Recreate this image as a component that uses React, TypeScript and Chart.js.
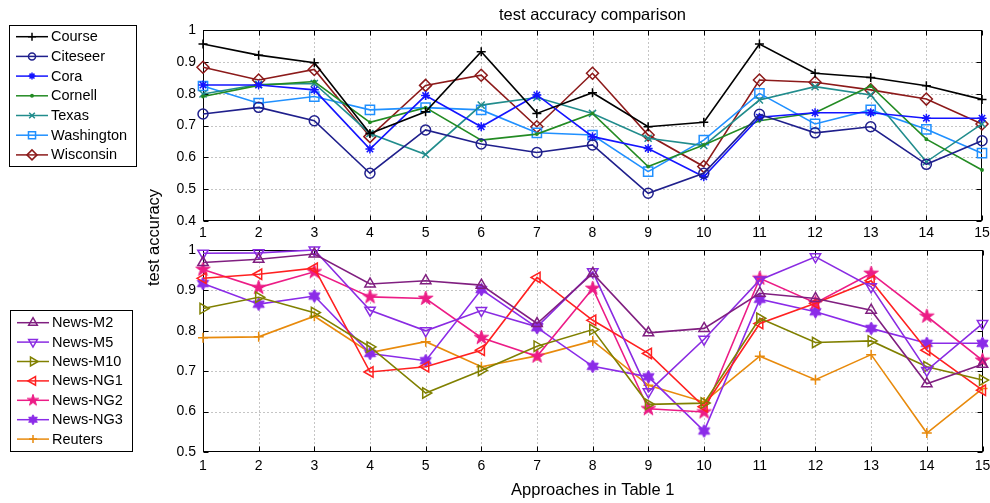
import React, { useEffect, useRef } from 'react';
import { Chart, registerables } from 'chart.js';
import { drawPoint } from 'chart.js/helpers';

Chart.register(...registerables);

const approaches = ['1', '2', '3', '4', '5', '6', '7', '8', '9', '10', '11', '12', '13', '14', '15'];

// upper panel
const course = [0.956, 0.921, 0.897, 0.675, 0.743, 0.932, 0.738, 0.803, 0.696, 0.710, 0.956, 0.864, 0.851, 0.825, 0.782];
const citeseer = [0.736, 0.757, 0.715, 0.550, 0.686, 0.642, 0.615, 0.639, 0.487, 0.550, 0.735, 0.677, 0.696, 0.578, 0.652];
const cora = [0.827, 0.827, 0.812, 0.626, 0.794, 0.696, 0.796, 0.665, 0.628, 0.539, 0.726, 0.740, 0.740, 0.723, 0.723];
const cornell = [0.791, 0.826, 0.838, 0.710, 0.756, 0.654, 0.673, 0.738, 0.571, 0.639, 0.715, 0.740, 0.824, 0.657, 0.560];
const texas = [0.799, 0.829, 0.832, 0.675, 0.609, 0.764, 0.788, 0.738, 0.660, 0.637, 0.780, 0.822, 0.796, 0.586, 0.705];
const washington = [0.824, 0.770, 0.791, 0.749, 0.756, 0.749, 0.677, 0.670, 0.555, 0.654, 0.801, 0.705, 0.749, 0.688, 0.613];
const wisconsin = [0.883, 0.843, 0.876, 0.665, 0.826, 0.858, 0.696, 0.864, 0.670, 0.571, 0.843, 0.836, 0.812, 0.783, 0.705];

// lower panel
const newsM2 = [0.969, 0.977, 0.990, 0.916, 0.924, 0.913, 0.818, 0.942, 0.795, 0.806, 0.893, 0.880, 0.851, 0.669, 0.717];
const newsM5 = [0.992, 0.993, 1.0, 0.851, 0.800, 0.850, 0.810, 0.946, 0.649, 0.779, 0.926, 0.983, 0.909, 0.702, 0.818];
const newsM10 = [0.855, 0.883, 0.845, 0.760, 0.646, 0.702, 0.762, 0.803, 0.618, 0.621, 0.831, 0.771, 0.775, 0.711, 0.678];
const newsNG1 = [0.930, 0.940, 0.955, 0.698, 0.711, 0.752, 0.932, 0.826, 0.744, 0.612, 0.818, 0.868, 0.924, 0.752, 0.653];
const newsNG2 = [0.952, 0.907, 0.946, 0.884, 0.880, 0.783, 0.737, 0.905, 0.607, 0.599, 0.930, 0.869, 0.942, 0.836, 0.727];
const newsNG3 = [0.917, 0.866, 0.886, 0.744, 0.726, 0.902, 0.808, 0.712, 0.686, 0.552, 0.878, 0.847, 0.806, 0.769, 0.769];
const reuters = [0.783, 0.785, 0.836, 0.746, 0.773, 0.711, 0.738, 0.775, 0.665, 0.624, 0.737, 0.679, 0.741, 0.547, 0.657];

const topTicks = [0.4, 0.5, 0.6, 0.7, 0.8, 0.9, 1];
const bottomTicks = [0.5, 0.6, 0.7, 0.8, 0.9, 1];

const FONT = '"Liberation Sans", Arial, Helvetica, sans-serif';

function makeStar(color: string, outer: number, inner: number, points: number) {
  const size = Math.ceil(outer * 2 + 2);
  const c = document.createElement('canvas');
  c.width = size;
  c.height = size;
  const g = c.getContext('2d')!;
  g.translate(size / 2, size / 2);
  g.beginPath();
  for (let i = 0; i < points * 2; i++) {
    const r = i % 2 === 0 ? outer : inner;
    const a = -Math.PI / 2 + (i * Math.PI) / points;
    g.lineTo(r * Math.cos(a), r * Math.sin(a));
  }
  g.closePath();
  g.fillStyle = color;
  g.fill();
  g.strokeStyle = color;
  g.lineWidth = 1;
  g.stroke();
  return c;
}

type Spec = {
  label: string;
  data: number[];
  color: string;
  style: any;
  radius: number;
  rotation?: number;
  filled?: boolean;
  legendRadius: number;
  legendStyle?: any;
};

function frameAndGrid(chart: any) {
  const { ctx, chartArea: a, scales } = chart;
  const xs = scales.x;
  const ys = scales.y;
  const L = Math.round(a.left) + 0.5;
  const R = Math.round(a.right) - 0.5;
  const T = Math.round(a.top) + 0.5;
  const B = Math.round(a.bottom) - 0.5;
  ctx.save();
  ctx.lineWidth = 1;
  ctx.strokeStyle = '#8a8a8a';
  ctx.setLineDash([1, 3]);
  const n = xs.ticks.length;
  for (let i = 1; i < n - 1; i++) {
    const px = Math.round(xs.getPixelForTick(i)) + 0.5;
    ctx.beginPath();
    ctx.moveTo(px, T);
    ctx.lineTo(px, B);
    ctx.stroke();
  }
  ys.ticks.forEach((t: any) => {
    if (t.value <= ys.min + 1e-9 || t.value >= ys.max - 1e-9) return;
    const py = Math.round(ys.getPixelForValue(t.value)) + 0.5;
    ctx.beginPath();
    ctx.moveTo(L, py);
    ctx.lineTo(R, py);
    ctx.stroke();
  });
  ctx.setLineDash([]);
  ctx.strokeStyle = '#000';
  ctx.lineWidth = 1;
  ctx.strokeRect(L, T, R - L, B - T);
  const tl = 5;
  for (let i = 0; i < n; i++) {
    const px = Math.round(xs.getPixelForTick(i)) + 0.5;
    ctx.beginPath();
    ctx.moveTo(px, B);
    ctx.lineTo(px, B - tl);
    ctx.moveTo(px, T);
    ctx.lineTo(px, T + tl);
    ctx.stroke();
  }
  ys.ticks.forEach((t: any) => {
    const py = Math.round(ys.getPixelForValue(t.value)) + 0.5;
    ctx.beginPath();
    ctx.moveTo(L, py);
    ctx.lineTo(L + tl, py);
    ctx.moveTo(R, py);
    ctx.lineTo(R - tl, py);
    ctx.stroke();
  });
  ctx.restore();
}

function drawLegend(chart: any, specs: Spec[], box: any) {
  const { ctx } = chart;
  ctx.save();
  ctx.fillStyle = '#fff';
  ctx.fillRect(box.x, box.y, box.w, box.h);
  ctx.strokeStyle = '#000';
  ctx.lineWidth = 1;
  ctx.strokeRect(box.x + 0.5, box.y + 0.5, box.w, box.h);
  ctx.font = `14.5px ${FONT}`;
  ctx.textBaseline = 'middle';
  ctx.textAlign = 'left';
  specs.forEach((s, i) => {
    const y = box.row0 + i * box.dy;
    ctx.strokeStyle = s.color;
    ctx.lineWidth = 1.5;
    ctx.beginPath();
    ctx.moveTo(box.lx0, y);
    ctx.lineTo(box.lx1, y);
    ctx.stroke();
    ctx.fillStyle = s.filled ? s.color : 'rgba(0,0,0,0)';
    ctx.strokeStyle = s.color;
    ctx.lineWidth = 1.5;
    drawPoint(ctx, {
      pointStyle: s.legendStyle || s.style,
      rotation: s.rotation || 0,
      radius: s.legendRadius,
      borderWidth: 1.5,
    } as any, (box.lx0 + box.lx1) / 2, y);
    ctx.fillStyle = '#000';
    ctx.fillText(s.label, box.tx, y + 0.5);
  });
  ctx.restore();
}

function buildDatasets(specs: Spec[]) {
  return specs.map((s) => ({
    label: s.label,
    data: s.data,
    borderColor: s.color,
    backgroundColor: s.color,
    borderWidth: 1.6,
    pointStyle: s.style,
    pointRadius: s.radius,
    pointRotation: s.rotation || 0,
    pointBorderColor: s.color,
    pointBackgroundColor: s.filled ? s.color : 'rgba(0,0,0,0)',
    pointBorderWidth: 1.5,
    clip: false as any,
    tension: 0,
    fill: false,
  }));
}

function makeOptions(min: number, max: number, tickVals: number[], padding: any, xHeight: number, xPad: number) {
  return {
    responsive: false,
    animation: false as const,
    events: [] as any,
    layout: { padding },
    plugins: { legend: { display: false }, tooltip: { enabled: false }, title: { display: false } },
    scales: {
      x: {
        type: 'category' as const,
        offset: false,
        grid: { display: false, drawTicks: false },
        border: { display: false },
        ticks: { color: '#000', font: { family: FONT, size: 14 }, padding: xPad, maxRotation: 0, autoSkip: false },
        afterFit: (s: any) => {
          s.height = xHeight;
          s.paddingLeft = 0;
          s.paddingRight = 0;
        },
      },
      y: {
        type: 'linear' as const,
        min,
        max,
        grid: { display: false, drawTicks: false },
        border: { display: false },
        afterBuildTicks: (s: any) => {
          s.ticks = tickVals.map((v) => ({ value: v }));
        },
        ticks: {
          color: '#000',
          font: { family: FONT, size: 14 },
          padding: 7,
          callback: (v: any) => String(Math.round(Number(v) * 10) / 10),
        },
        afterFit: (s: any) => {
          s.width = 203;
          s.paddingTop = 0;
          s.paddingBottom = 0;
        },
      },
    },
  };
}

export default function App() {
  const topRef = useRef<HTMLCanvasElement | null>(null);
  const botRef = useRef<HTMLCanvasElement | null>(null);

  useEffect(() => {
    document.body.style.margin = '0';
    const ng2Big = makeStar('#ec1c86', 7.5, 2.9, 5);
    const ng2Small = makeStar('#ec1c86', 6, 2.3, 5);
    const ng3Big = makeStar('#8b2be8', 6.5, 3.75, 6);
    const ng3Small = makeStar('#8b2be8', 5, 2.9, 6);

    const topSpecs: Spec[] = [
      { label: 'Course', data: course, color: '#000000', style: 'cross', radius: 4.5, legendRadius: 4 },
      { label: 'Citeseer', data: citeseer, color: '#1f1f8c', style: 'circle', radius: 5, legendRadius: 3.5 },
      { label: 'Cora', data: cora, color: '#1414ff', style: 'star', radius: 4.5, legendRadius: 3.5 },
      { label: 'Cornell', data: cornell, color: '#238b23', style: 'circle', radius: 1.2, filled: true, legendRadius: 1.2 },
      { label: 'Texas', data: texas, color: '#218c8c', style: 'crossRot', radius: 5, legendRadius: 4 },
      { label: 'Washington', data: washington, color: '#2090ff', style: 'rect', radius: 6.5, legendRadius: 5 },
      { label: 'Wisconsin', data: wisconsin, color: '#8c1a1a', style: 'rectRot', radius: 6, legendRadius: 5 },
    ];
    const botSpecs: Spec[] = [
      { label: 'News-M2', data: newsM2, color: '#801f80', style: 'triangle', radius: 6, legendRadius: 5 },
      { label: 'News-M5', data: newsM5, color: '#8a2be2', style: 'triangle', rotation: 180, radius: 6, legendRadius: 5 },
      { label: 'News-M10', data: newsM10, color: '#808000', style: 'triangle', rotation: 90, radius: 6, legendRadius: 5 },
      { label: 'News-NG1', data: newsNG1, color: '#ff2020', style: 'triangle', rotation: 270, radius: 6, legendRadius: 5 },
      { label: 'News-NG2', data: newsNG2, color: '#ec1c86', style: ng2Big, legendStyle: ng2Small, radius: 6, filled: true, legendRadius: 5 },
      { label: 'News-NG3', data: newsNG3, color: '#8b2be8', style: ng3Big, legendStyle: ng3Small, radius: 6, filled: true, legendRadius: 5 },
      { label: 'Reuters', data: reuters, color: '#e88a0c', style: 'cross', radius: 5, legendRadius: 4 },
    ];

    const topPlugin = {
      id: 'topDecor',
      beforeDatasetsDraw: (chart: any) => frameAndGrid(chart),
      afterDraw: (chart: any) => {
        const { ctx, chartArea: a } = chart;
        ctx.save();
        ctx.fillStyle = '#000';
        ctx.font = `16.5px ${FONT}`;
        ctx.textAlign = 'center';
        ctx.textBaseline = 'middle';
        ctx.fillText('test accuracy comparison', (a.left + a.right) / 2, 15);
        ctx.translate(154, 237.5);
        ctx.rotate(-Math.PI / 2);
        ctx.fillText('test accuracy', 0, 0);
        ctx.restore();
        drawLegend(chart, topSpecs, { x: 9, y: 25, w: 127, h: 141, row0: 36.7, dy: 19.7, lx0: 16, lx1: 48, tx: 51 });
      },
    };
    const botPlugin = {
      id: 'botDecor',
      beforeDatasetsDraw: (chart: any) => frameAndGrid(chart),
      afterDraw: (chart: any) => {
        const { ctx, chartArea: a } = chart;
        ctx.save();
        ctx.fillStyle = '#000';
        ctx.font = `16.5px ${FONT}`;
        ctx.textAlign = 'center';
        ctx.textBaseline = 'middle';
        ctx.fillText('Approaches in Table 1', (a.left + a.right) / 2, 490);
        ctx.restore();
        drawLegend(chart, botSpecs, { x: 10, y: 310, w: 122, h: 141, row0: 322.7, dy: 19.4, lx0: 17, lx1: 49, tx: 52 });
      },
    };

    const top = new Chart(topRef.current!, {
      type: 'line',
      data: { labels: approaches, datasets: buildDatasets(topSpecs) as any },
      options: makeOptions(0.4, 1, topTicks, { top: 30, left: 0, right: 7, bottom: 262 }, 20, 4) as any,
      plugins: [topPlugin],
    });
    const bot = new Chart(botRef.current!, {
      type: 'line',
      data: { labels: approaches, datasets: buildDatasets(botSpecs) as any },
      options: makeOptions(0.5, 1, bottomTicks, { top: 250, left: 0, right: 7, bottom: 29 }, 22, 6) as any,
      plugins: [botPlugin],
    });
    return () => {
      top.destroy();
      bot.destroy();
    };
  }, []);

  const cStyle: React.CSSProperties = { position: 'absolute', left: 0, top: 0, width: 990, height: 503 };
  return (
    <div style={{ position: 'absolute', left: 0, top: 0, width: 990, height: 503, background: '#fff', overflow: 'hidden' }}>
      <canvas ref={botRef} width={990} height={503} style={cStyle} />
      <canvas ref={topRef} width={990} height={503} style={cStyle} />
    </div>
  );
}
